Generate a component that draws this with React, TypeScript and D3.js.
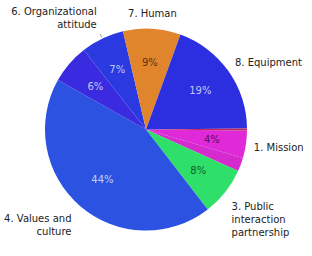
import React from 'react';
import * as d3 from 'd3';

const width = 312;
const height = 256;
const cx = 146;
const cy = 129.5;
const radius = 101;

// slices in drawing order, clockwise from 3 o'clock
const categories = [
  '1. Mission',
  '',
  '3. Public\ninteraction\npartnership',
  '4. Values and\nculture',
  '',
  '6. Organizational\nattitude',
  '7. Human',
  '8. Equipment',
  '',
];
const values = [4.4, 2.2, 7.8, 43.6, 6.3, 6.9, 9.2, 19.3, 0.3];
const colors = [
  '#e02ad9', '#d52acd', '#2ee06a', '#2b52e0', '#3a2be0',
  '#2b3ae0', '#e0852b', '#2b2fe0', '#c02a5a',
];

const font = '"DejaVu Sans", Verdana, sans-serif';

const App = () => {
  const total = d3.sum(values);
  const startAngle = (90.5 * Math.PI) / 180;

  const pie = d3.pie<number>()
    .sort(null)
    .startAngle(startAngle)
    .endAngle(startAngle + Math.PI * 2);
  const arcs = pie(values);

  const arc = d3.arc<d3.PieArcDatum<number>>()
    .innerRadius(0)
    .outerRadius(radius);

  const lineH = 13;

  return (
    <svg
      width={width}
      height={height}
      style={{ position: 'absolute', left: 0, top: 0, background: '#fff' }}
      fontFamily={font}
    >
      <g transform={`translate(${cx},${cy})`}>
        {/* Slices */}
        {arcs.map((a, i) => (
          <path key={i} d={arc(a) || ''} fill={colors[i]} />
        ))}

        {/* Percent labels inside */}
        {arcs.map((a, i) => {
          const pct = Math.round((values[i] / total) * 100);
          if (a.endAngle - a.startAngle < 0.2) return null;
          const mid = (a.startAngle + a.endAngle) / 2;
          const r = radius * 0.66;
          const dark = d3.lab(colors[i]).l < 50;
          const textColor = dark
            ? d3.interpolateRgb(colors[i], '#ffffff')(0.72)
            : d3.interpolateRgb(colors[i], '#000000')(0.6);
          return (
            <text
              key={i}
              x={r * Math.sin(mid)}
              y={-r * Math.cos(mid)}
              dy="0.35em"
              textAnchor="middle"
              fontSize="10"
              fill={textColor}
            >
              {pct}%
            </text>
          );
        })}

        {/* Outside labels */}
        {arcs.map((a, i) => {
          if (!categories[i]) return null;
          const lines = categories[i].split('\n');
          const n = lines.length;
          const mid = (a.startAngle + a.endAngle) / 2;
          const s = Math.sin(mid);
          const c = Math.cos(mid);
          const lr = radius + 12;
          const x = (s > 0 ? lr - 4 : lr + 1) * s;
          const y = -lr * c;
          const anchor = s > 0.35 ? 'start' : s < -0.35 ? 'end' : 'middle';
          const dir = c < 0 ? 1 : -1;
          const shift = n > 1 ? dir * (n - 1) * lineH * 0.75 : -4 * c;
          const y0 = y + 4 + shift - ((n - 1) * lineH) / 2;
          return (
            <g key={i}>
              {n > 1 && c > 0 && (
                <line
                  x1={(radius + 1) * s}
                  y1={-(radius + 1) * c}
                  x2={(radius + 5) * s}
                  y2={-(radius + 5) * c}
                  stroke="#999"
                  strokeWidth={1}
                />
              )}
              <text x={x} y={y0} textAnchor={anchor} fontSize="10" fill="#222">
                {lines.map((l, j) => (
                  <tspan key={j} x={x} y={y0 + j * lineH}>{l}</tspan>
                ))}
              </text>
            </g>
          );
        })}
      </g>
    </svg>
  );
};

export default App;
